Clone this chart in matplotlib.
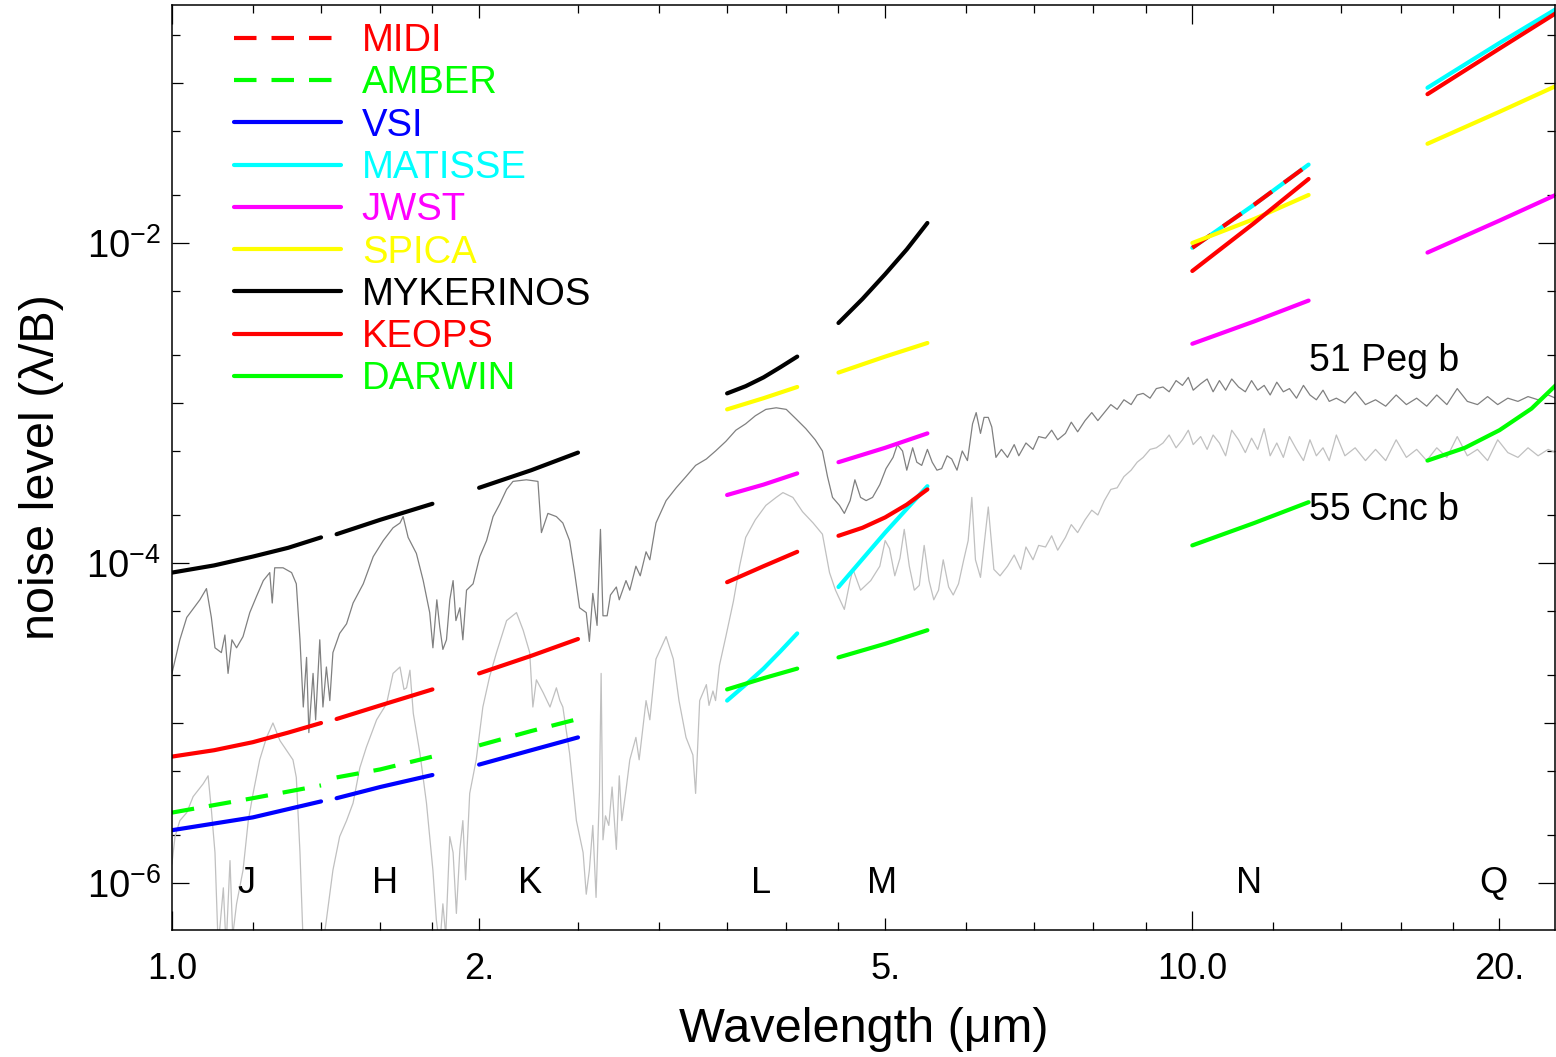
import numpy as np
import matplotlib
matplotlib.use('Agg')
import matplotlib.pyplot as plt
from matplotlib.ticker import NullFormatter

plt.rcParams['font.family'] = ['Liberation Sans', 'DejaVu Sans']
plt.rcParams['mathtext.fontset'] = 'custom'
plt.rcParams['mathtext.rm'] = 'Liberation Sans'
plt.rcParams['mathtext.it'] = 'Liberation Sans:italic'
plt.rcParams['mathtext.bf'] = 'Liberation Sans:bold'

# planet spectra: wavelength (micron) and log10 of the level
peg_wl = [1.00, 1.018, 1.034, 1.048, 1.065, 1.081, 1.093, 1.102, 1.118, 1.127, 1.135, 1.145, 1.157, 1.174,
          1.192, 1.210, 1.229, 1.247, 1.254, 1.261, 1.285, 1.310, 1.324, 1.335, 1.345, 1.355, 1.362, 1.375,
          1.383, 1.396, 1.406, 1.417, 1.428, 1.438, 1.460, 1.483, 1.505, 1.540, 1.575, 1.611, 1.647, 1.673,
          1.685, 1.704, 1.736, 1.763, 1.789, 1.802, 1.818, 1.830, 1.843, 1.858, 1.872, 1.886, 1.898, 1.915,
          1.928, 1.944, 1.973, 2.003, 2.034, 2.064, 2.096, 2.128, 2.159, 2.225, 2.284, 2.302, 2.336, 2.381,
          2.416, 2.453, 2.481, 2.509, 2.547, 2.565, 2.585, 2.61, 2.63, 2.645, 2.67, 2.69, 2.726, 2.744,
          2.786, 2.81, 2.849, 2.877, 2.915, 2.94, 2.981, 3.05, 3.12, 3.19, 3.26, 3.34, 3.41, 3.49, 3.57,
          3.65, 3.73, 3.82, 3.91, 4.00, 4.09, 4.18, 4.27, 4.34, 4.39, 4.44, 4.51, 4.56, 4.62, 4.67, 4.73,
          4.79, 4.86, 4.94, 5.01, 5.09, 5.14, 5.20, 5.25, 5.32, 5.37, 5.43, 5.50, 5.56, 5.62, 5.68, 5.75,
          5.81, 5.88, 5.95, 6.02, 6.09, 6.14, 6.20, 6.25, 6.31, 6.36, 6.42, 6.50, 6.59, 6.69, 6.76, 6.87,
          6.98, 7.07, 7.18, 7.28, 7.38, 7.51, 7.61, 7.72, 7.85, 7.97, 8.08, 8.20, 8.32, 8.44, 8.57, 8.71,
          8.83, 8.95, 9.09, 9.22, 9.36, 9.49, 9.64, 9.78, 9.91, 10.02, 10.19, 10.34, 10.48, 10.63, 10.78,
          10.93, 11.10, 11.27, 11.43, 11.59, 11.76, 11.92, 12.10, 12.28, 12.45, 12.65, 12.85, 13.04, 13.23,
          13.43, 13.62, 13.84, 14.11, 14.44, 14.78, 15.12, 15.47, 15.84, 16.21, 16.59, 16.97, 17.36, 17.76,
          18.18, 18.60, 19.03, 19.47, 19.92, 20.38, 20.85, 21.33, 21.82, 22.32, 22.70]
peg_log = [-4.69, -4.48, -4.34, -4.29, -4.23, -4.16, -4.34, -4.53, -4.56, -4.45, -4.69, -4.48, -4.53, -4.46,
           -4.31, -4.21, -4.11, -4.06, -4.25, -4.03, -4.03, -4.06, -4.13, -4.48, -4.90, -4.59, -5.06, -4.69,
           -4.98, -4.48, -4.90, -4.65, -4.86, -4.56, -4.44, -4.38, -4.25, -4.13, -3.96, -3.86, -3.78, -3.75,
           -3.71, -3.84, -3.94, -4.11, -4.31, -4.53, -4.23, -4.40, -4.54, -4.48, -4.23, -4.11, -4.36, -4.28,
           -4.48, -4.17, -4.13, -3.96, -3.86, -3.71, -3.63, -3.54, -3.49, -3.48, -3.49, -3.81, -3.69, -3.71,
           -3.75, -3.86, -4.06, -4.28, -4.31, -4.49, -4.19, -4.39, -3.79, -4.33, -4.33, -4.20, -4.15, -4.23,
           -4.11, -4.17, -4.02, -4.08, -3.93, -3.98, -3.75, -3.61, -3.53, -3.46, -3.39, -3.35, -3.30, -3.24,
           -3.17, -3.13, -3.08, -3.04, -3.03, -3.04, -3.10, -3.16, -3.23, -3.30, -3.46, -3.59, -3.64, -3.69,
           -3.61, -3.48, -3.59, -3.61, -3.59, -3.51, -3.41, -3.34, -3.26, -3.30, -3.42, -3.28, -3.37, -3.39,
           -3.29, -3.37, -3.42, -3.41, -3.33, -3.35, -3.42, -3.30, -3.36, -3.13, -3.06, -3.19, -3.09, -3.09,
           -3.15, -3.34, -3.29, -3.34, -3.26, -3.33, -3.25, -3.29, -3.21, -3.22, -3.17, -3.23, -3.19, -3.12,
           -3.18, -3.11, -3.06, -3.11, -3.06, -3.01, -3.04, -2.98, -3.01, -2.95, -2.94, -2.97, -2.91, -2.90,
           -2.93, -2.86, -2.89, -2.84, -2.92, -2.88, -2.85, -2.93, -2.86, -2.92, -2.85, -2.90, -2.93, -2.86,
           -2.92, -2.89, -2.95, -2.87, -2.93, -2.91, -2.97, -2.89, -2.95, -2.98, -2.92, -2.99, -2.97, -3.00,
           -2.93, -3.01, -2.98, -3.02, -2.95, -3.01, -2.97, -3.02, -2.95, -3.01, -2.91, -2.99, -3.01, -2.96,
           -3.01, -2.97, -2.99, -2.96, -2.98, -2.95, -2.97]

cnc_wl = [1.00, 1.007, 1.018, 1.034, 1.049, 1.073, 1.085, 1.093, 1.102, 1.110, 1.123, 1.130, 1.140, 1.147,
          1.157, 1.174, 1.188, 1.201, 1.219, 1.238, 1.256, 1.276, 1.295, 1.314, 1.324, 1.335, 1.345, 1.365,
          1.386, 1.402, 1.417, 1.438, 1.460, 1.483, 1.505, 1.528, 1.551, 1.587, 1.623, 1.647, 1.673, 1.688,
          1.698, 1.711, 1.724, 1.750, 1.776, 1.802, 1.816, 1.830, 1.843, 1.855, 1.872, 1.886, 1.900, 1.915,
          1.928, 1.940, 1.958, 1.987, 2.017, 2.048, 2.080, 2.128, 2.176, 2.209, 2.242, 2.258, 2.276, 2.311,
          2.347, 2.381, 2.400, 2.416, 2.453, 2.491, 2.529, 2.547, 2.565, 2.585, 2.604, 2.624, 2.634, 2.645,
          2.660, 2.680, 2.700, 2.726, 2.744, 2.760, 2.786, 2.810, 2.849, 2.870, 2.915, 2.940, 2.981, 3.05,
          3.10, 3.14, 3.19, 3.24, 3.26, 3.29, 3.34, 3.36, 3.39, 3.41, 3.44, 3.49, 3.55, 3.60, 3.65, 3.73,
          3.82, 3.91, 3.97, 4.06, 4.15, 4.25, 4.34, 4.41, 4.47, 4.56, 4.62, 4.65, 4.73, 4.84, 4.94, 5.00,
          5.05, 5.11, 5.17, 5.22, 5.28, 5.34, 5.40, 5.46, 5.52, 5.58, 5.64, 5.70, 5.77, 5.83, 5.90, 5.97,
          6.03, 6.08, 6.13, 6.20, 6.31, 6.39, 6.48, 6.59, 6.69, 6.79, 6.87, 6.98, 7.07, 7.18, 7.28, 7.38,
          7.51, 7.61, 7.72, 7.85, 7.97, 8.08, 8.20, 8.32, 8.44, 8.57, 8.71, 8.83, 8.95, 9.09, 9.22, 9.36,
          9.49, 9.64, 9.78, 9.91, 10.02, 10.19, 10.34, 10.48, 10.63, 10.78, 10.93, 11.10, 11.27, 11.43,
          11.59, 11.76, 11.92, 12.10, 12.28, 12.45, 12.65, 12.85, 13.04, 13.23, 13.43, 13.62, 13.84, 14.11,
          14.44, 14.78, 15.12, 15.47, 15.84, 16.21, 16.59, 16.97, 17.36, 17.76, 18.18, 18.60, 19.03, 19.47,
          19.92, 20.38, 20.85, 21.33, 21.82, 22.32, 22.70]
cnc_log = [-5.88, -5.71, -5.61, -5.56, -5.46, -5.38, -5.33, -5.54, -5.81, -6.40, -6.03, -6.40, -5.86, -6.33,
           -6.13, -5.92, -5.61, -5.44, -5.23, -5.09, -5.00, -5.11, -5.17, -5.23, -5.34, -5.81, -6.40, -6.45,
           -6.40, -6.45, -6.23, -5.92, -5.71, -5.61, -5.50, -5.28, -5.15, -4.98, -4.88, -4.69, -4.65, -4.79,
           -4.78, -4.67, -4.94, -5.19, -5.50, -5.92, -6.23, -6.40, -6.13, -6.33, -5.71, -5.81, -6.19, -5.79,
           -5.61, -5.98, -5.44, -5.23, -4.90, -4.71, -4.56, -4.36, -4.31, -4.42, -4.56, -4.90, -4.73, -4.81,
           -4.90, -4.78, -4.86, -4.90, -5.19, -5.61, -5.81, -6.07, -5.92, -5.64, -6.09, -5.43, -4.69, -5.73,
           -5.58, -5.64, -5.40, -5.79, -5.33, -5.61, -5.42, -5.23, -5.09, -5.23, -4.86, -4.98, -4.60, -4.46,
           -4.60, -4.86, -5.09, -5.20, -5.44, -4.86, -4.76, -4.89, -4.80, -4.86, -4.64, -4.46, -4.24, -4.02,
           -3.84, -3.73, -3.64, -3.59, -3.56, -3.59, -3.68, -3.75, -3.82, -4.06, -4.17, -4.29, -4.11, -4.04,
           -4.17, -4.11, -4.02, -3.86, -3.91, -4.08, -3.97, -3.79, -4.02, -4.17, -4.14, -3.89, -4.11, -4.23,
           -4.17, -3.98, -4.15, -4.20, -4.13, -3.98, -3.86, -3.59, -3.98, -4.09, -3.65, -4.04, -4.08, -4.02,
           -3.95, -4.04, -3.90, -3.98, -3.89, -3.90, -3.83, -3.92, -3.84, -3.76, -3.81, -3.73, -3.67, -3.70,
           -3.61, -3.54, -3.53, -3.46, -3.42, -3.37, -3.34, -3.29, -3.28, -3.25, -3.20, -3.28, -3.23, -3.17,
           -3.26, -3.21, -3.29, -3.20, -3.25, -3.33, -3.17, -3.23, -3.31, -3.22, -3.29, -3.16, -3.33, -3.25,
           -3.34, -3.21, -3.29, -3.36, -3.23, -3.33, -3.28, -3.36, -3.20, -3.33, -3.28, -3.36, -3.29, -3.36,
           -3.23, -3.34, -3.29, -3.36, -3.28, -3.34, -3.21, -3.33, -3.29, -3.36, -3.23, -3.31, -3.34, -3.28,
           -3.33, -3.29, -3.31]

# wavelengths sampled in each band (3 or 5 readings)
band_wl = {'J': [1.0, 1.2, 1.4], 'H': [1.45, 1.6, 1.8], 'K': [2.0, 2.25, 2.5],
           'L': [3.5, 3.8, 4.1], 'M': [4.5, 5.0, 5.5], 'N': [10.0, 11.5, 13.0],
           'Q': [17.0, 20.0, 22.7]}
band_wl5 = {'J': [1.0, 1.1, 1.2, 1.3, 1.4], 'L': [3.5, 3.65, 3.8, 3.95, 4.1],
            'M': [4.5, 4.75, 5.0, 5.25, 5.5], 'Q': [17.0, 18.5, 20.0, 21.5, 22.7]}

# log10 noise level per instrument and band
midi = {'N': [-2.03, -1.76, -1.51]}
amber = {'J': [-5.56, -5.47, -5.39], 'H': [-5.34, -5.29, -5.21], 'K': [-5.14, -5.05, -4.975]}
vsi = {'J': [-5.67, -5.59, -5.49], 'H': [-5.47, -5.40, -5.325], 'K': [-5.26, -5.17, -5.09]}
matisse = {'L': [-4.86, -4.76, -4.66, -4.55, -4.44], 'M': [-4.15, -3.81, -3.52],
           'N': [-2.03, -1.76, -1.51], 'Q': [-1.03, -0.75, -0.54]}
jwst = {'L': [-3.575, -3.51, -3.44], 'M': [-3.37, -3.28, -3.19], 'N': [-2.63, -2.49, -2.36],
        'Q': [-2.06, -1.86, -1.70]}
spica = {'L': [-3.04, -2.97, -2.90], 'M': [-2.81, -2.71, -2.625], 'N': [-2.00, -1.85, -1.70],
         'Q': [-1.38, -1.18, -1.02]}
mykerinos = {'J': [-4.06, -4.015, -3.96, -3.905, -3.84], 'H': [-3.82, -3.73, -3.63],
             'K': [-3.53, -3.42, -3.31], 'L': [-2.94, -2.895, -2.84, -2.775, -2.71],
             'M': [-2.50, -2.35, -2.195, -2.04, -1.875]}
keops = {'J': [-5.21, -5.17, -5.12, -5.06, -5.00], 'H': [-4.975, -4.89, -4.79], 'K': [-4.69, -4.58, -4.475],
         'L': [-4.12, -4.02, -3.93], 'M': [-3.83, -3.78, -3.715, -3.635, -3.54],
         'N': [-2.175, -1.875, -1.60], 'Q': [-1.07, -0.785, -0.565]}
darwin = {'L': [-4.79, -4.72, -4.66], 'M': [-4.59, -4.505, -4.42], 'N': [-3.89, -3.75, -3.62],
          'Q': [-3.36, -3.28, -3.17, -3.035, -2.89]}

# legend order: name, colour, dashed, data
instruments = [('MIDI', '#ff0000', True, midi),
               ('AMBER', '#00ff00', True, amber),
               ('VSI', '#0000ff', False, vsi),
               ('MATISSE', '#00ffff', False, matisse),
               ('JWST', '#ff00ff', False, jwst),
               ('SPICA', '#ffff00', False, spica),
               ('MYKERINOS', '#000000', False, mykerinos),
               ('KEOPS', '#ff0000', False, keops),
               ('DARWIN', '#00ff00', False, darwin)]
draw_order = ['MATISSE', 'MIDI', 'AMBER', 'VSI', 'JWST', 'SPICA', 'MYKERINOS', 'KEOPS', 'DARWIN']

band_names = ['J', 'H', 'K', 'L', 'M', 'N', 'Q']
band_label_wl = [1.184, 1.617, 2.242, 3.78, 4.97, 11.37, 19.72]

fig = plt.figure(figsize=(15.56, 10.57), dpi=100)
ax = fig.add_axes([0.1105, 0.1201, 0.889, 0.8752])
ax.set_xscale('log')
ax.set_yscale('log')

#spectra
ax.plot(cnc_wl, np.power(10.0, cnc_log), color='#c0c0c0', lw=0.9)
ax.plot(peg_wl, np.power(10.0, peg_log), color='#808080', lw=0.9)

#instrument curves
handles = {}
lookup = {name: (col, dashed, data) for name, col, dashed, data in instruments}
for name in draw_order:
    col, dashed, data = lookup[name]
    for band, vals in data.items():
        wl = band_wl[band] if len(vals) == 3 else band_wl5[band]
        if dashed:
            line, = ax.plot(wl, np.power(10.0, vals), color=col, lw=3.0, dashes=(5.4, 3.6),
                            dash_capstyle='butt')
        else:
            line, = ax.plot(wl, np.power(10.0, vals), color=col, lw=3.0, solid_capstyle='round',
                            solid_joinstyle='round')
        handles.setdefault(name, line)

leg = ax.legend([handles[n] for n, _, _, _ in instruments], [n for n, _, _, _ in instruments],
                loc='upper left', bbox_to_anchor=(0.0448, 0.9805), frameon=False, fontsize=27.5,
                handlelength=2.8, handletextpad=0.55, labelspacing=0.165, labelcolor='linecolor',
                borderaxespad=0, borderpad=0)

for b, x in zip(band_names, band_label_wl):
    ax.text(x, 1e-6, b, ha='center', va='center', fontsize=26)

ax.text(15.42, 10**-2.74, '51 Peg b', ha='center', va='center', fontsize=27)
ax.text(15.42, 10**-3.67, '55 Cnc b', ha='center', va='center', fontsize=27)

#ticks
xmaj = [1, 2, 5, 10, 20]
ax.set_xticks(xmaj)
ax.set_xticklabels(['1.0', '2.', '5.', '10.0', '20.'])
ax.set_xticks([1.2, 1.4, 1.6, 1.8, 2.5, 3, 3.5, 4, 4.5, 6, 7, 8, 9, 12, 14, 16, 18], minor=True)
ax.xaxis.set_minor_formatter(NullFormatter())
ymaj = [1e-6, 1e-5, 1e-4, 1e-3, 1e-2, 1e-1]
ax.set_yticks(ymaj)
ax.set_yticklabels([r'$10^{-6}$', '', r'$10^{-4}$', '', r'$10^{-2}$', ''])
ymin = [m * 10.0**e for e in range(-7, 0) for m in (2, 5)]
ax.set_yticks(ymin, minor=True)
ax.yaxis.set_minor_formatter(NullFormatter())
ax.set_xlim(1.0, 22.68)
ax.set_ylim(10**-6.294, 10**-0.5125)

ax.tick_params(which='both', direction='in', top=True, right=True, width=0.9)
ax.tick_params(axis='x', which='major', length=9, pad=16, labelsize=26)
ax.tick_params(axis='y', which='major', length=8.2, pad=8, labelsize=27.5)
ax.tick_params(which='minor', length=5.5)
for t, v in zip(ax.xaxis.get_major_ticks(), xmaj):
    if v in (1, 10):
        t.tick1line.set_markersize(13.5)
        t.tick2line.set_markersize(13.5)
for t, v in zip(ax.yaxis.get_major_ticks(), ymaj):
    if v in (1e-6, 1e-4, 1e-2):
        t.tick1line.set_markersize(12)
        t.tick2line.set_markersize(12)

for s in ax.spines.values():
    s.set_linewidth(1.1)

ax.set_xlabel('Wavelength (\u03bcm)', fontsize=35, labelpad=14)
ax.set_ylabel('noise level (\u03bb/B)', fontsize=35, labelpad=16)

plt.savefig('out.png', dpi=100, facecolor='white')
